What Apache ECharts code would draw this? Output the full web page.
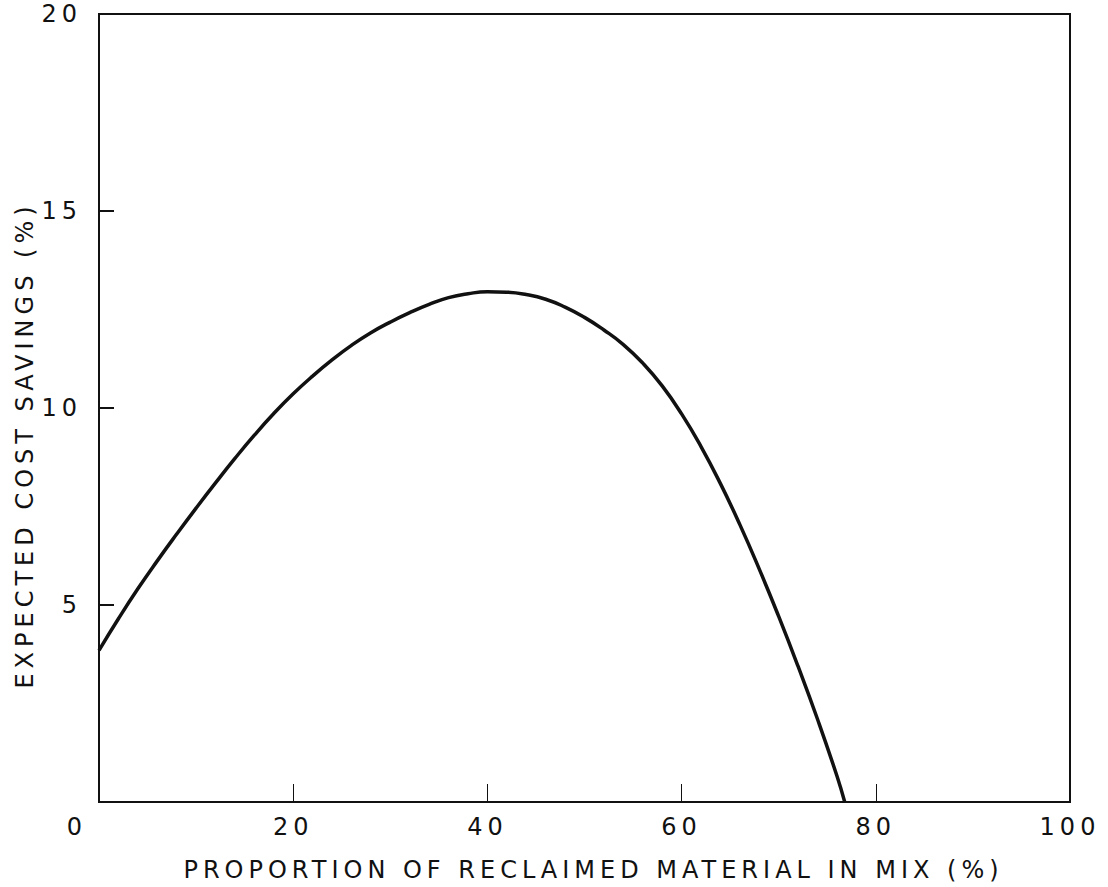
<!DOCTYPE html>
<html>
<head>
<meta charset="utf-8">
<title>Expected cost savings</title>
<script src="https://cdn.jsdelivr.net/npm/echarts@6/dist/echarts.min.js"></script>
<style>
  html, body { margin: 0; padding: 0; background: #fff; }
  #chart { width: 1108px; height: 887px; }
  /* the original lettering is widely spaced */
  #chart svg text { letter-spacing: 5px; }
</style>
</head>
<body>
<div id="chart"></div>
<script>
// proportion of reclaimed material (%)
const proportion = [0, 2, 4, 6, 8, 10, 12, 14, 16, 18, 20, 22, 24, 26, 28, 30, 32, 34, 36, 38,
  40, 42, 44, 46, 48, 50, 52, 54, 56, 58, 60, 62, 64, 66, 68, 70, 72, 74, 76, 76.8];
// expected cost savings (%)
const savings = [3.85, 4.65, 5.41, 6.12, 6.8, 7.46, 8.1, 8.72, 9.31, 9.86, 10.36, 10.81, 11.22, 11.59, 11.91, 12.18, 12.42, 12.63, 12.8, 12.9,
  12.95, 12.94, 12.88, 12.76, 12.56, 12.3, 11.98, 11.61, 11.14, 10.56, 9.85, 9.02, 8.08, 7.04, 5.91, 4.71, 3.44, 2.1, 0.66, 0];

const xTicks = [0, 20, 40, 60, 80, 100];
const yTicks = [0, 5, 10, 15, 20];

const ink = '#111';
const font = 'DejaVu Sans';

const chart = echarts.init(document.getElementById('chart'), null, { renderer: 'svg' });

const option = {
  backgroundColor: '#fff',
  animation: false,
  grid: {
    left: 99, right: 38, top: 14, bottom: 85,
    show: true, borderColor: ink, borderWidth: 2, backgroundColor: 'transparent'
  },
  xAxis: {
    type: 'value',
    min: xTicks[0],
    max: xTicks[xTicks.length - 1],
    interval: 20,
    name: 'PROPORTION OF RECLAIMED MATERIAL IN MIX (%)',
    nameLocation: 'middle',
    nameGap: 56,
    nameTextStyle: { color: ink, fontFamily: font, fontSize: 24, padding: [0, 0, 0, 18] },
    axisLine: { lineStyle: { color: ink, width: 2 } },
    axisTick: { inside: true, length: 18, lineStyle: { color: ink, width: 1 } },
    splitLine: { show: false },
    axisLabel: {
      margin: 13,
      color: ink, fontFamily: font, fontSize: 24,
      formatter: function (v) {
        return v === 0 ? '{zero|0}' : String(v);
      },
      rich: {
        zero: { color: ink, fontFamily: font, fontSize: 24, padding: [0, 44, 0, 0] }
      }
    }
  },
  yAxis: {
    type: 'value',
    min: yTicks[0],
    max: yTicks[yTicks.length - 1],
    interval: 5,
    name: 'EXPECTED COST SAVINGS (%)',
    nameLocation: 'middle',
    nameGap: 62,
    nameTextStyle: { color: ink, fontFamily: font, fontSize: 24, padding: [0, 74, 0, 0] },
    axisLine: { lineStyle: { color: ink, width: 2 } },
    axisTick: { inside: true, length: 15, lineStyle: { color: ink, width: 2 } },
    splitLine: { show: false },
    axisLabel: {
      margin: 17,
      color: ink, fontFamily: font, fontSize: 24,
      showMinLabel: false
    }
  },
  series: [
    {
      type: 'line',
      data: proportion.map((x, i) => [x, savings[i]]),
      smooth: 0.5,
      showSymbol: false,
      lineStyle: { color: ink, width: 3.5 }
    }
  ]
};

chart.setOption(option);
</script>
</body>
</html>
